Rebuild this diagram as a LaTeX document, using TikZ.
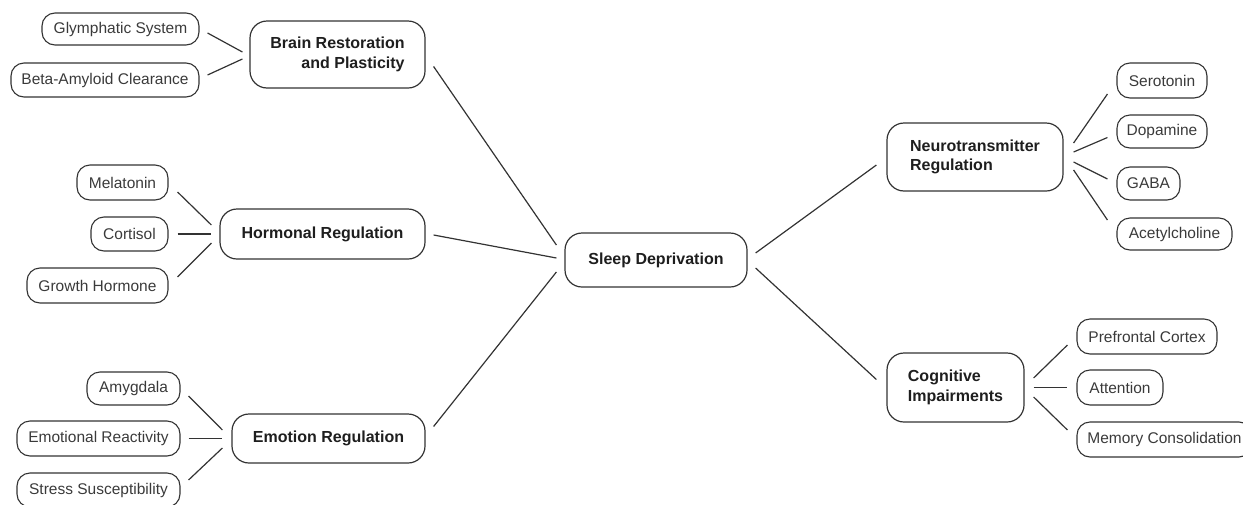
\documentclass[tikz,border=0pt]{standalone}
\usepackage{fontspec}
\setmainfont{Liberation Sans}
\definecolor{linec}{HTML}{333333}
\definecolor{leaftext}{HTML}{3A3A3A}
\definecolor{hubtext}{HTML}{1E1E1E}
\tikzset{
  leaf/.style={draw=linec, line width=1.1pt, rounded corners=13pt, inner sep=0pt,
    text=leaftext, font=\fontsize{15.5}{18}\selectfont, minimum height=34pt},
  hub/.style={draw=linec, line width=1.2pt, rounded corners=17pt, inner sep=0pt,
    text=hubtext, font=\fontsize{16}{19.5}\selectfont\bfseries},
  link/.style={draw=linec, line width=1.2pt},
}
\begin{document}
\begin{tikzpicture}[x=1pt,y=-1pt]
\useasboundingbox (0,0) rectangle (1243,504);
% hubs
\node[hub, minimum width=182pt, minimum height=54pt] (root) at (656,260) {Sleep Deprivation};
\node[hub, minimum width=175pt, minimum height=67pt, align=right] (brain) at (337.5,54.5) {Brain Restoration\\and Plasticity};
\node[hub, minimum width=205pt, minimum height=50pt] (horm) at (322.5,234) {Hormonal Regulation};
\node[hub, minimum width=193pt, minimum height=49pt] (emo) at (328.5,438.5) {Emotion Regulation};
\node[hub, minimum width=176pt, minimum height=68pt, align=left] (neuro) at (975,157) {Neurotransmitter\\Regulation};
\node[hub, minimum width=137pt, minimum height=69pt, align=left] (cog) at (955.5,387.5) {Cognitive\\Impairments};
% leaves
\node[leaf, minimum width=157pt, minimum height=32pt] (glym) at (120.5,29) {Glymphatic System};
\node[leaf, minimum width=188pt] (beta) at (105,80) {Beta-Amyloid Clearance};
\node[leaf, minimum width=91pt, minimum height=35pt] (mel) at (122.5,182.5) {Melatonin};
\node[leaf, minimum width=77pt] (cort) at (129.5,234) {Cortisol};
\node[leaf, minimum width=141pt, minimum height=35pt] (grow) at (97.5,285.5) {Growth Hormone};
\node[leaf, minimum width=93pt, minimum height=33pt] (amy) at (133.5,388.5) {Amygdala};
\node[leaf, minimum width=163pt, minimum height=35pt] (emr) at (98.5,438.5) {Emotional Reactivity};
\node[leaf, minimum width=163pt] (stress) at (98.5,490) {Stress Susceptibility};
\node[leaf, minimum width=90pt, minimum height=35pt] (sero) at (1162,80.5) {Serotonin};
\node[leaf, minimum width=90pt, minimum height=33pt] (dopa) at (1162,131.5) {Dopamine};
\node[leaf, minimum width=63pt, minimum height=33pt] (gaba) at (1148.5,183.5) {GABA};
\node[leaf, minimum width=115pt, minimum height=32pt] (acet) at (1174.5,234) {Acetylcholine};
\node[leaf, minimum width=140pt, minimum height=35pt] (pref) at (1147,336.5) {Prefrontal Cortex};
\node[leaf, minimum width=86pt, minimum height=35pt] (att) at (1120,387.5) {Attention};
\node[leaf, minimum width=175pt, minimum height=35pt] (mem) at (1164.5,439.5) {Memory Consolidation};
% root links
\draw[link] ([shift={(8,12)}]brain.east) -- ([shift={(-8,-15)}]root.west);
\draw[link] ([shift={(8,1)}]horm.east) -- ([shift={(-8,-2)}]root.west);
\draw[link] ([shift={(8,-12)}]emo.east) -- ([shift={(-8,12)}]root.west);
\draw[link] ([shift={(8,-7)}]root.east) -- ([shift={(-10,8)}]neuro.west);
\draw[link] ([shift={(8,8)}]root.east) -- ([shift={(-10,-8)}]cog.west);
% brain
\draw[link] ([shift={(8,4)}]glym.east) -- ([shift={(-7,-2.5)}]brain.west);
\draw[link] ([shift={(8,-5)}]beta.east) -- ([shift={(-7,4.5)}]brain.west);
% hormonal
\draw[link] ([shift={(9,9.5)}]mel.east) -- ([shift={(-8,-9)}]horm.west);
\draw[link] ([shift={(9,0)}]cort.east) -- ([shift={(-8,0)}]horm.west);
\draw[link] ([shift={(9,-8.5)}]grow.east) -- ([shift={(-8,9)}]horm.west);
% emotion
\draw[link] ([shift={(8,7.5)}]amy.east) -- ([shift={(-9,-8.5)}]emo.west);
\draw[link] ([shift={(8,0)}]emr.east) -- ([shift={(-9,0)}]emo.west);
\draw[link] ([shift={(8,-10)}]stress.east) -- ([shift={(-9,9.5)}]emo.west);
% neuro
\draw[link] ([shift={(10,-14)}]neuro.east) -- ([shift={(-9,13.5)}]sero.west);
\draw[link] ([shift={(10,-5)}]neuro.east) -- ([shift={(-9,6)}]dopa.west);
\draw[link] ([shift={(10,5)}]neuro.east) -- ([shift={(-9,-4.5)}]gaba.west);
\draw[link] ([shift={(10,13)}]neuro.east) -- ([shift={(-9,-14)}]acet.west);
% cognitive
\draw[link] ([shift={(9,-9.5)}]cog.east) -- ([shift={(-9,8.5)}]pref.west);
\draw[link] ([shift={(9,0)}]cog.east) -- ([shift={(-9,0)}]att.west);
\draw[link] ([shift={(9,9.5)}]cog.east) -- ([shift={(-9,-9.5)}]mem.west);
\end{tikzpicture}
\end{document}
